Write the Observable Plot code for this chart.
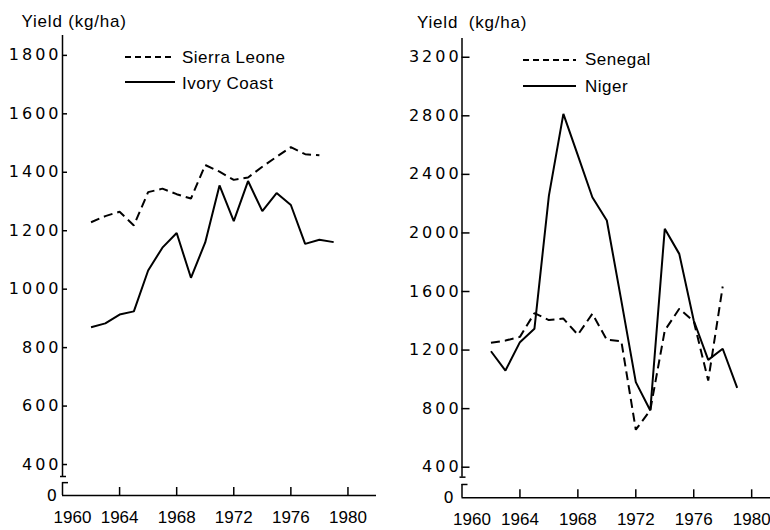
<!DOCTYPE html>
<html>
<head>
<meta charset="utf-8">
<script src="https://cdn.jsdelivr.net/npm/d3@7"></script>
<script src="https://cdn.jsdelivr.net/npm/@observablehq/plot@0.6"></script>
<style>
  html, body { margin: 0; padding: 0; background: #fff; }
  #wrap { position: relative; width: 770px; height: 530px; background: #fff; overflow: hidden; }
  .panel { position: absolute; top: 0; width: 385px; height: 530px; }
  #left { left: 0; }
  #right { left: 385px; }
  svg.chart { color: #000; background: #fff; overflow: visible; }
  svg.chart g[aria-label="y-axis tick label"] { font-family: "DejaVu Sans", sans-serif; font-size: 16px; letter-spacing: 3px; }
  svg.chart g[aria-label="x-axis tick label"] { font-family: "Liberation Sans", Arial, sans-serif; font-size: 17px; }
  #overlay { position: absolute; left: 0; top: 0; pointer-events: none; }
  #overlay text { font-family: "Liberation Sans", Arial, sans-serif; font-size: 17px; fill: #000; }
</style>
</head>
<body>
<div id="wrap">
  <div id="left" class="panel"></div>
  <div id="right" class="panel"></div>
</div>
<script>
// ---------------- data ----------------
const yieldLabel = "Yield (kg/ha)";

// left panel
const sierraLeoneYears = [1962,1963,1964,1965,1966,1967,1968,1969,1970,1971,1972,1973,1974,1975,1976,1977,1978];
const sierraLeone      = [1229,1250,1265,1218,1332,1344,1325,1310,1425,1402,1374,1382,1419,1453,1486,1462,1458];
const ivoryCoastYears  = [1962,1963,1964,1965,1966,1967,1968,1969,1970,1971,1972,1973,1974,1975,1976,1977,1978,1979];
const ivoryCoast       = [870,883,913,924,1064,1142,1192,1039,1160,1355,1233,1370,1267,1329,1288,1155,1169,1161];

// right panel
const senegalYears = [1962,1963,1964,1965,1966,1967,1968,1969,1970,1971,1972,1973,1974,1975,1976,1977,1978];
const senegal      = [1250,1265,1290,1452,1405,1415,1305,1448,1270,1261,656,790,1334,1482,1397,992,1634];
const nigerYears   = [1962,1963,1964,1965,1966,1967,1968,1969,1970,1971,1972,1973,1974,1975,1976,1977,1978,1979];
const niger        = [1192,1060,1254,1345,2255,2813,2530,2244,2085,1538,981,787,2028,1857,1402,1133,1209,942];

// ticks
const xTicks = [1964, 1968, 1972, 1976, 1980];
const firstYear = 1960;
const leftYTicks  = [400, 600, 800, 1000, 1200, 1400, 1600, 1800];
const rightYTicks = [400, 800, 1200, 1600, 2000, 2400, 2800, 3200];
const zeroLabel = "0";

// ---------------- drawing ----------------
function makePanel(cfg) {
  const rows = cfg.series.flatMap(s => s.years.map((yr, i) => ({year: yr, value: s.values[i], name: s.name})));
  const [y0, yTop] = cfg.yDomain;
  const xpp = (cfg.xDomain[1] - cfg.xDomain[0]) / (cfg.width - cfg.marginLeft - cfg.marginRight); // years per px
  const lineMarks = cfg.series.map(s =>
    Plot.line(rows.filter(r => r.name === s.name), {
      x: "year", y: "value", stroke: "#000", strokeWidth: 2,
      strokeDasharray: s.dashed ? "9,5" : null, strokeLinejoin: "miter", strokeLinecap: "butt"
    })
  );
  return Plot.plot({
    width: cfg.width, height: 530,
    marginTop: cfg.marginTop, marginBottom: cfg.marginBottom,
    marginLeft: cfg.marginLeft, marginRight: cfg.marginRight,
    className: "chart",
    style: {background: "#fff", color: "#000"},
    x: {domain: cfg.xDomain, label: null},
    y: {domain: cfg.yDomain, label: null},
    marks: [
      // broken y axis line
      Plot.ruleX([firstYear], {y1: () => yTop, y2: () => cfg.breakHi, stroke: "#000", strokeWidth: 1.5}),
      Plot.ruleX([firstYear], {y1: () => cfg.breakLo, y2: () => y0, stroke: "#000", strokeWidth: 1.5}),
      Plot.ruleY([cfg.breakHi], {x1: () => firstYear - 2 * xpp, x2: () => firstYear + 4 * xpp, stroke: "#000", strokeWidth: 1.5}),
      Plot.ruleY([cfg.breakLo], {x1: () => firstYear, x2: () => firstYear + 6 * xpp, stroke: "#000", strokeWidth: 1.5}),
      // x axis line
      Plot.ruleY([y0], {x1: () => firstYear, x2: () => cfg.xDomain[1], stroke: "#000", strokeWidth: 1.5}),
      Plot.axisY({ticks: cfg.yTicks, tickFormat: d => String(d), label: null, tickSize: -cfg.yTickSize, tickPadding: cfg.yTickPadding, strokeWidth: 1.5, fill: "#000"}),
      Plot.axisY({ticks: [y0], tickFormat: () => zeroLabel, label: null, tickSize: 0, tickPadding: cfg.zeroPadding, fill: "#000"}),
      Plot.axisX({ticks: xTicks, tickFormat: d => String(d), label: null, tickSize: -8, tickPadding: cfg.xTickPadding, strokeWidth: 1.5, fill: "#000"}),
      Plot.axisX({ticks: [firstYear], tickFormat: d => String(d), label: null, tickSize: 0, tickPadding: cfg.xTickPadding - 8, dx: 10, fill: "#000"}),
      ...lineMarks
    ]
  });
}

const leftSeries = [
  {name: "Sierra Leone", years: sierraLeoneYears, values: sierraLeone, dashed: true},
  {name: "Ivory Coast", years: ivoryCoastYears, values: ivoryCoast, dashed: false}
];
const rightSeries = [
  {name: "Senegal", years: senegalYears, values: senegal, dashed: true},
  {name: "Niger", years: nigerYears, values: niger, dashed: false}
];

const leftPlot = makePanel({
  series: leftSeries, width: 385,
  marginTop: 35, marginBottom: 35, marginLeft: 62, marginRight: 9,
  xDomain: [1960, 1982], yDomain: [294, 1868],
  breakHi: 359, breakLo: 338,
  yTicks: leftYTicks, yTickSize: 5, yTickPadding: 6, zeroPadding: 2.6, xTickPadding: 23
});
const rightPlot = makePanel({
  series: rightSeries, width: 385,
  marginTop: 38, marginBottom: 32.7, marginLeft: 76.5, marginRight: 0,
  xDomain: [1960, 1981.3], yDomain: [191, 3328],
  breakHi: 332, breakLo: 282,
  yTicks: rightYTicks, yTickSize: 8, yTickPadding: 8.4, zeroPadding: 5.4, xTickPadding: 23.5
});
document.getElementById("left").appendChild(leftPlot);
document.getElementById("right").appendChild(rightPlot);

// ---------------- titles and legends (overlay) ----------------
const ns = "http://www.w3.org/2000/svg";
const ov = document.createElementNS(ns, "svg");
ov.setAttribute("id", "overlay");
ov.setAttribute("width", 770);
ov.setAttribute("height", 530);
function txt(x, y, s, extra = {}) {
  const t = document.createElementNS(ns, "text");
  t.setAttribute("x", x); t.setAttribute("y", y);
  for (const k in extra) t.setAttribute(k, extra[k]);
  t.textContent = s;
  ov.appendChild(t);
}
function seg(x1, x2, y, dashed) {
  const l = document.createElementNS(ns, "line");
  l.setAttribute("x1", x1); l.setAttribute("x2", x2);
  l.setAttribute("y1", y); l.setAttribute("y2", y);
  l.setAttribute("stroke", "#000"); l.setAttribute("stroke-width", 2);
  if (dashed) l.setAttribute("stroke-dasharray", "6,4");
  ov.appendChild(l);
}
txt(21.5, 26.5, yieldLabel, {"letter-spacing": "0.8"});
txt(417, 28.3, yieldLabel, {"letter-spacing": "0.8", "word-spacing": "5"});
const legendPos = [
  {series: leftSeries,  x1: 125, x2: 175, tx: 182, ys: [57, 82], tys: [62.7, 89]},
  {series: rightSeries, x1: 523, x2: 576, tx: 585, ys: [60, 86], tys: [65, 91.7]}
];
for (const lg of legendPos) {
  lg.series.forEach((s, i) => {
    seg(lg.x1, lg.x2, lg.ys[i], s.dashed);
    txt(lg.tx, lg.tys[i], s.name, {"letter-spacing": "0.5"});
  });
}
document.getElementById("wrap").appendChild(ov);
</script>
</body>
</html>
